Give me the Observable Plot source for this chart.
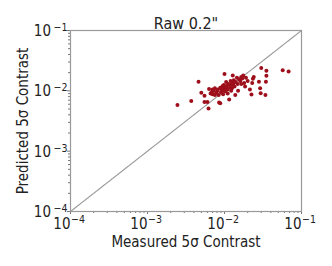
<!DOCTYPE html>
<html><head><meta charset="utf-8">
<script src="https://cdn.jsdelivr.net/npm/d3@7"></script>
<script src="https://cdn.jsdelivr.net/npm/@observablehq/plot@0.6"></script>
<style>body{margin:0;background:#fff;}svg{font-family:"DejaVu Sans Condensed","DejaVu Sans",sans-serif;font-stretch:condensed;}</style>
</head><body><div id="chart"></div>
<script>
const title = "Raw 0.2\"";
const xLabel = "Measured 5σ Contrast";
const yLabel = "Predicted 5σ Contrast";
const majorTicks = [1e-4, 1e-3, 1e-2, 1e-1];
const tickBase = "10";
const tickExponents = ["−4", "−3", "−2", "−1"];
const measured = [0.00245,0.0037,0.0046,0.0050,0.0055,0.0055,0.0060,0.0062,0.0063,0.0066,0.0068,0.0070,0.0072,0.0075,0.0078,0.0080,0.0082,0.0084,0.0085,0.0088,0.0088,0.0090,0.0092,0.0094,0.0095,0.0096,0.0098,0.0100,0.0100,0.0102,0.0105,0.0107,0.0110,0.0112,0.0115,0.0118,0.0120,0.0122,0.0125,0.0128,0.0130,0.0132,0.0135,0.0138,0.0140,0.0145,0.0148,0.0150,0.0155,0.0160,0.0165,0.0170,0.0175,0.0180,0.0185,0.0190,0.0200,0.0214,0.0224,0.0229,0.0234,0.0240,0.0280,0.0290,0.0295,0.0300,0.0350,0.0350,0.0345,0.0340,0.0570,0.0680,0.0075,0.0090,0.0105,0.0110,0.0125,0.0095,0.0120,0.0130,0.0165,0.0070];
const predicted = [0.0058,0.0068,0.0141,0.0093,0.0083,0.0065,0.0065,0.0051,0.0107,0.0090,0.0095,0.0088,0.0100,0.0110,0.0092,0.0098,0.0105,0.0085,0.0064,0.0062,0.0112,0.0095,0.0105,0.0118,0.0100,0.0088,0.0125,0.0110,0.0190,0.0098,0.0140,0.0120,0.0105,0.0130,0.0072,0.0115,0.0145,0.0100,0.0135,0.0180,0.0125,0.0150,0.0118,0.0085,0.0140,0.0165,0.0130,0.0100,0.0155,0.0145,0.0170,0.0160,0.0180,0.0135,0.0118,0.0165,0.0145,0.0105,0.0087,0.0135,0.0158,0.0170,0.0141,0.0110,0.0091,0.0240,0.0215,0.0178,0.0141,0.0085,0.0220,0.0210,0.0085,0.0110,0.0115,0.0090,0.0110,0.0120,0.0125,0.0138,0.0130,0.0105];
const diagonal = [1e-4, 1e-1];

const points = measured.map((m, i) => ({m, p: predicted[i]}));
const minor = [];
for (let e = -4; e < -1; e++) for (let k = 2; k <= 9; k++) minor.push(k * Math.pow(10, e));
const expOf = d => tickExponents[majorTicks.indexOf(d)];

const plot = Plot.plot({
  width: 332, height: 266,
  marginLeft: 70, marginRight: 31, marginTop: 30, marginBottom: 55,
  style: {fontFamily: "'DejaVu Sans Condensed','DejaVu Sans',sans-serif", fontSize: "15px", color: "#222", background: "#fff"},
  x: {type: "log", domain: [1e-4, 1e-1]},
  y: {type: "log", domain: [1e-4, 1e-1]},
  marks: [
    Plot.axisX(minor, {tickSize: 2, tickFormat: () => "", stroke: "#777", label: null}),
    Plot.axisY(minor, {tickSize: 2, tickFormat: () => "", stroke: "#777", label: null}),
    Plot.axisX(majorTicks, {tickSize: 3, tickFormat: () => "", fontSize: 15, stroke: "#777", fill: "#222",
      label: xLabel, labelAnchor: "center", labelOffset: 35, labelArrow: "none"}),
    Plot.axisY(majorTicks, {tickSize: 3, tickFormat: () => "", fontSize: 15, stroke: "#777", fill: "#222",
      label: yLabel, labelAnchor: "center", labelOffset: 53, labelArrow: "none"}),
    // x tick labels: 10^n
    Plot.text(majorTicks, {x: d => d, frameAnchor: "bottom", text: () => tickBase, textAnchor: "end",
      lineAnchor: "bottom", dy: 17, fontSize: 15, fill: "#222"}),
    Plot.text(majorTicks, {x: d => d, frameAnchor: "bottom", text: expOf, textAnchor: "start",
      lineAnchor: "bottom", dy: 11, dx: 0.5, fontSize: 10.5, fill: "#222"}),
    // y tick labels
    Plot.text(majorTicks, {y: d => d, frameAnchor: "left", text: () => tickBase, textAnchor: "end",
      lineAnchor: "bottom", dx: -19.5, dy: 5.5, fontSize: 15, fill: "#222"}),
    Plot.text(majorTicks, {y: d => d, frameAnchor: "left", text: expOf, textAnchor: "end",
      lineAnchor: "bottom", dx: -3, dy: 0.5, fontSize: 10.5, fill: "#222"}),
    Plot.line(diagonal, {x: d => d, y: d => d, stroke: "#999", strokeWidth: 1.2, strokeDasharray: "1,1"}),
    Plot.dot(points, {x: "m", y: "p", r: 2, fill: "#9e0f1c", stroke: null}),
    Plot.frame({stroke: "#999", strokeWidth: 1.2}),
    Plot.text([title], {frameAnchor: "top", dy: -1.5, lineAnchor: "bottom", fontSize: 16, fill: "#222"})
  ]
});
document.getElementById("chart").appendChild(plot);
</script></body></html>
